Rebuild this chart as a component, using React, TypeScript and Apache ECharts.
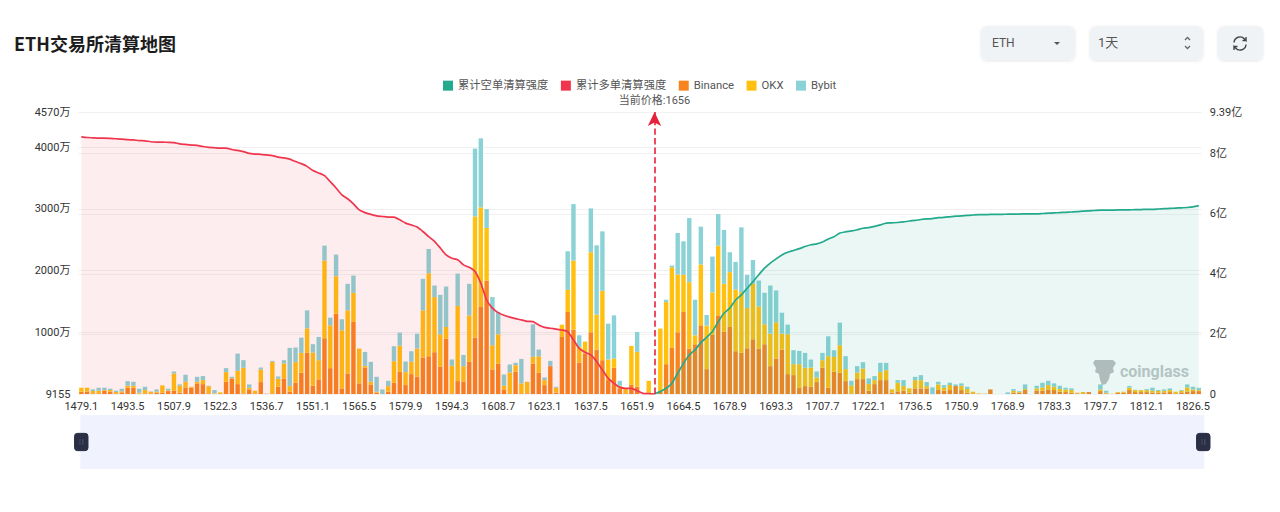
import React, { useEffect, useRef } from "react";
import * as echarts from "echarts";

const prices: string[] = [
"1479.1","1480.9","1482.7","1484.5","1486.3","1488.1","1489.9","1491.7","1493.5","1495.3","1497.1","1498.9","1500.7","1502.5","1504.3","1506.1",
"1507.9","1509.7","1511.5","1513.3","1515.1","1516.9","1518.7","1520.5","1522.3","1524.1","1525.9","1527.7","1529.5","1531.3","1533.1","1534.9",
"1536.7","1538.5","1540.3","1542.1","1543.9","1545.7","1547.5","1549.3","1551.1","1552.9","1554.7","1556.5","1558.3","1560.1","1561.9","1563.7",
"1565.5","1567.3","1569.1","1570.9","1572.7","1574.5","1576.3","1578.1","1579.9","1581.7","1583.5","1585.3","1587.1","1588.9","1590.7","1592.5",
"1594.3","1596.1","1597.9","1599.7","1601.5","1603.3","1605.1","1606.9","1608.7","1610.5","1612.3","1614.1","1615.9","1617.7","1619.5","1621.3",
"1623.1","1624.9","1626.7","1628.5","1630.3","1632.1","1633.9","1635.7","1637.5","1639.3","1641.1","1642.9","1644.7","1646.5","1648.3","1650.1",
"1651.9","1653.7","1655.5","1656","1657.3","1659.1","1660.9","1662.7","1664.5","1666.3","1668.1","1669.9","1671.7","1673.5","1675.3","1677.1",
"1678.9","1680.7","1682.5","1684.3","1686.1","1687.9","1689.7","1691.5","1693.3","1695.1","1696.9","1698.7","1700.5","1702.3","1704.1","1705.9",
"1707.7","1709.5","1711.3","1713.1","1714.9","1716.7","1718.5","1720.3","1722.1","1723.9","1725.7","1727.5","1729.3","1731.1","1732.9","1734.7",
"1736.5","1738.3","1740.1","1741.9","1743.7","1745.5","1747.3","1749.1","1750.9","1752.7","1754.5","1756.3","1758.1","1761.7","1765.3","1767.1",
"1768.9","1770.7","1772.5","1774.3","1776.1","1777.9","1779.7","1781.5","1783.3","1785.1","1786.9","1788.7","1790.5","1792.3","1794.1","1795.9",
"1797.7","1799.5","1801.3","1803.1","1804.9","1806.7","1808.5","1810.3","1812.1","1813.9","1815.7","1817.5","1819.3","1821.1","1822.9","1824.7",
"1826.5","1828.3"];

// 万
const binance: number[] = [38,38,11,11,54,38,11,27,102,102,5,11,11,22,22,48,54,22,108,102,172,161,11,0,0,199,253,161,11,75,11,194,5,11,118,253,38,183,344,667,135,237,904,420,1302,91,334,1167,172,430,156,22,0,38,183,360,145,323,280,592,613,678,441,898,11,210,204,522,915,1410,1840,398,495,75,11,360,11,11,495,344,145,452,22,925,1329,1044,506,656,1001,721,549,226,425,91,11,156,118,5,11,0,38,484,748,1001,1329,737,807,1114,404,958,1275,1006,1087,694,667,742,888,737,807,452,576,721,323,307,97,129,118,194,425,102,360,344,210,11,242,242,54,161,226,226,22,43,54,22,91,91,91,0,65,54,65,129,65,22,11,0,5,75,0,0,0,22,22,65,0,54,54,75,65,38,32,22,11,11,32,0,48,11,0,22,22,65,32,32,32,22,22,27,32,11,27,38,48,48];
const okx: number[] = [65,65,38,43,11,27,22,16,32,32,16,54,27,16,118,11,280,113,91,16,27,65,118,11,27,156,5,215,414,27,43,204,0,511,129,242,91,334,323,398,538,312,1259,694,608,942,1022,473,565,27,43,16,0,91,350,425,210,199,457,764,1345,893,527,188,447,1216,247,753,1964,1614,850,393,473,59,339,108,161,188,108,269,81,0,81,199,360,1119,258,194,1297,565,1124,334,151,43,81,624,565,0,204,0,1022,1006,1307,936,603,1076,145,985,705,689,1130,780,888,1001,985,651,898,683,323,527,586,258,646,178,387,296,312,75,124,511,242,447,194,129,108,172,108,65,129,161,54,140,75,70,134,134,38,0,91,48,81,0,70,59,27,11,0,0,0,0,0,32,16,16,0,38,54,70,54,43,43,43,11,22,0,0,27,11,5,11,16,38,32,32,32,32,27,27,32,27,27,70,27,16];
const bybit: number[] = [0,0,27,48,38,22,22,43,75,65,65,54,5,38,0,27,32,22,113,0,81,65,5,54,0,65,22,280,124,54,0,32,0,16,38,54,619,237,247,291,135,377,242,124,350,178,430,280,0,226,323,242,75,86,242,210,172,172,242,511,393,188,640,656,102,527,183,511,1098,1119,307,780,360,183,129,38,398,0,527,108,43,86,16,0,624,915,188,0,710,1124,963,581,699,81,0,0,323,0,0,0,0,38,27,673,543,1038,576,613,172,581,511,872,323,447,1049,538,387,420,511,780,516,339,156,226,215,242,129,97,118,323,108,366,210,75,102,102,91,65,151,118,0,43,97,0,54,81,65,108,43,43,38,27,38,38,0,0,0,0,0,0,27,27,11,75,0,43,75,70,54,54,27,27,0,0,0,0,81,32,0,0,0,27,5,0,16,48,16,22,27,0,11,48,43,38];

// 亿
const longCumulative: number[] = [8.56,8.54,8.53,8.52,8.52,8.51,8.5,8.49,8.47,8.46,8.44,8.43,8.4,8.39,8.39,8.38,8.37,8.33,8.31,8.29,8.28,8.24,8.21,8.2,8.19,8.19,8.14,8.11,8.07,8.01,7.99,7.98,7.96,7.94,7.89,7.86,7.82,7.74,7.67,7.58,7.44,7.36,7.27,7.07,6.86,6.63,6.5,6.33,6.13,6.04,5.98,5.93,5.91,5.89,5.89,5.8,5.69,5.63,5.56,5.41,5.24,5.08,4.86,4.63,4.52,4.47,4.3,4.22,4.08,3.69,3.13,2.86,2.71,2.62,2.56,2.51,2.47,2.42,2.41,2.3,2.22,2.19,2.16,2.13,2.08,1.8,1.52,1.39,1.3,1.08,0.8,0.52,0.36,0.22,0.19,0.19,0.11,0.02,0.01,0];
const shortCumulative: number[] = [0,0.08,0.19,0.36,0.69,1.02,1.3,1.47,1.71,1.89,2.08,2.41,2.69,2.86,3.13,3.3,3.52,3.74,3.97,4.19,4.36,4.5,4.63,4.72,4.78,4.84,4.91,4.97,5,5.06,5.16,5.24,5.36,5.4,5.43,5.47,5.52,5.54,5.58,5.63,5.69,5.7,5.71,5.73,5.76,5.78,5.81,5.83,5.84,5.87,5.88,5.9,5.92,5.93,5.95,5.96,5.97,5.97,5.98,5.98,5.98,5.99,5.99,5.99,6,6,6,6.01,6.02,6.03,6.04,6.05,6.06,6.07,6.09,6.1,6.11,6.12,6.12,6.12,6.13,6.13,6.13,6.14,6.14,6.15,6.15,6.16,6.17,6.18,6.19,6.2,6.21,6.23,6.27];

const currentPrice = "1656";
const legendNames = ["累计空单清算强度", "累计多单清算强度", "Binance", "OKX", "Bybit"];
const FONT = 'Roboto, "Noto Sans CJK SC", sans-serif';
const LEFT_MIN = 9155;
const LEFT_MAX = 45700000;
const RIGHT_MAX = 939000000;

const REFRESH_D =
  "M1 6A6 6 0 0 1 11.5 2.5L13 4V0.5M13 4H9.5M13 8A6 6 0 0 1 2.5 11.5L1 10V13.5M1 10H4.5";
const LOGO_D =
  "M2 0H20L23 3L20 8L21 12L17 14L16 19L13 24L9 25L7 20L6 14L2 12L3 8L0 3Z";
echarts.graphic.registerShape("refreshIcon", echarts.graphic.extendPath(REFRESH_D as any, {}) as any);
echarts.graphic.registerShape("glassLogo", echarts.graphic.extendPath(LOGO_D as any, {}) as any);

function button(x: number, w: number) {
  return {
    type: "rect",
    shape: { x, y: 26, width: w, height: 34, r: 6 },
    style: { fill: "#f0f3f5", shadowColor: "rgba(0,0,0,0.10)", shadowBlur: 3, shadowOffsetY: 1 },
  };
}

export default function App() {
  const ref = useRef<HTMLDivElement>(null);
  useEffect(() => {
    const chart = echarts.init(ref.current!, undefined, { renderer: "svg" });
    const barSeries = (name: string, data: number[], color: string) => ({
      name,
      type: "bar",
      stack: "exchanges",
      yAxisIndex: 0,
      barWidth: 4.4,
      data: data.map((v) => v * 10000),
      itemStyle: { color },
    });
    chart.setOption({
      animation: false,
      textStyle: { fontFamily: FONT },
      grid: { left: 78.4, right: 78.3, top: 112, bottom: 118 },
      legend: {
        data: legendNames,
        left: 438,
        top: 75,
        icon: "rect",
        itemWidth: 10,
        itemHeight: 10,
        itemGap: 12.5,
        textStyle: { fontSize: 11.3, color: "#555", fontFamily: FONT },
      },
      xAxis: {
        type: "category",
        data: prices,
        axisLine: { show: false },
        axisTick: { show: false },
        axisLabel: { interval: 7, fontSize: 11, color: "#333", margin: 7, fontFamily: FONT, hideOverlap: false },
      },
      yAxis: [
        {
          type: "value",
          min: LEFT_MIN,
          max: LEFT_MAX,
          axisLine: { show: false },
          axisTick: { show: false },
          splitLine: { lineStyle: { color: "#f0f0f0" } },
          axisLabel: {
            fontSize: 11,
            color: "#333",
            margin: 8,
            fontFamily: FONT,
            formatter: (v: number) => (v === LEFT_MIN ? String(v) : `${v / 10000}万`),
          },
        },
        {
          type: "value",
          min: 0,
          max: RIGHT_MAX,
          position: "right",
          axisLine: { show: false },
          axisTick: { show: false },
          splitLine: { show: true, lineStyle: { color: "#f2f2f2" } },
          axisLabel: {
            fontSize: 11,
            color: "#333",
            margin: 8,
            fontFamily: FONT,
            formatter: (v: number) => (v === 0 ? "0" : `${v / 100000000}亿`),
          },
        },
      ],
      dataZoom: [
        {
          type: "slider",
          xAxisIndex: 0,
          start: 0,
          end: 100,
          left: 79,
          right: 77,
          top: 415,
          height: 54,
          backgroundColor: "#f0f3fd",
          fillerColor: "rgba(240,243,253,0)",
          borderColor: "transparent",
          showDetail: false,
          showDataShadow: false,
          brushSelect: false,
          moveHandleSize: 0,
          handleIcon:
            "path://M3,0H11A3,3 0 0 1 14,3V15A3,3 0 0 1 11,18H3A3,3 0 0 1 0,15V3A3,3 0 0 1 3,0ZM5,6V12H6V6ZM8,6V12H9V6Z",
          handleSize: "32%",
          handleStyle: { color: "#2b2f45", borderColor: "#2b2f45" },
        },
      ],
      series: [
        barSeries("Binance", binance, "#f7841e"),
        barSeries("OKX", okx, "#ffc00f"),
        barSeries("Bybit", bybit, "#8ad2d5"),
        {
          name: legendNames[1],
          type: "line",
          yAxisIndex: 1,
          smooth: 0.2,
          showSymbol: false,
          data: prices.map((_, i) => (i < longCumulative.length ? longCumulative[i] * 100000000 : null)),
          itemStyle: { color: "#f0364e" },
          lineStyle: { color: "#f0364e", width: 1.7 },
          areaStyle: { color: "rgba(240,54,78,0.13)" },
        },
        {
          name: legendNames[0],
          type: "line",
          yAxisIndex: 1,
          smooth: 0.2,
          showSymbol: false,
          data: prices.map((_, i) => {
            const k = i - (longCumulative.length - 1);
            return k >= 0 ? shortCumulative[k] * 100000000 : null;
          }),
          itemStyle: { color: "#23a98c" },
          lineStyle: { color: "#23a98c", width: 1.7 },
          areaStyle: { color: "rgba(35,169,140,0.13)" },
          markLine: {
            silent: true,
            symbol: ["none", "arrow"],
            symbolSize: [10, 14],
            lineStyle: { color: "#e6213b", type: "dashed", width: 1.6 },
            label: {
              position: "end",
              formatter: `当前价格:${currentPrice}`,
              fontSize: 11,
              color: "#555",
              distance: 6,
              fontFamily: FONT,
            },
            data: [{ xAxis: currentPrice }],
          },
        },
      ],
      graphic: [
        {
          type: "text",
          x: 14,
          y: 34,
          style: { text: "ETH交易所清算地图", fill: "#1c1c1c", font: 'bold 18px "Noto Sans CJK SC", sans-serif' },
        },
        button(981, 94),
        button(1090, 113),
        button(1218, 45),
        { type: "text", x: 992, y: 37, style: { text: "ETH", fill: "#555", font: `12px ${FONT}` } },
        { type: "polygon", shape: { points: [[1054, 42], [1060, 42], [1057, 45]] }, style: { fill: "#555" } },
        { type: "text", x: 1098, y: 36, style: { text: "1天", fill: "#555", font: `13px ${FONT}` } },
        { type: "polyline", shape: { points: [[1185, 40], [1187.5, 37.5], [1190, 40]] }, style: { stroke: "#666", fill: "none", lineWidth: 1.3 } },
        { type: "polyline", shape: { points: [[1185, 46], [1187.5, 48.5], [1190, 46]] }, style: { stroke: "#666", fill: "none", lineWidth: 1.3 } },
        { type: "refreshIcon", x: 1233, y: 36.5, style: { stroke: "#444", fill: "none", lineWidth: 1.4 } },
        { type: "glassLogo", x: 1093, y: 360, style: { fill: "#bcc0c0" } },
        {
          type: "text",
          x: 1120,
          y: 363,
          style: { text: "coinglass", fill: "#c2c8c8", font: `bold 16px ${FONT}` },
        },
      ],
    });
    return () => chart.dispose();
  }, []);
  return <div ref={ref} style={{ position: "absolute", left: 0, top: 0, width: 1280, height: 512 }} />;
}
